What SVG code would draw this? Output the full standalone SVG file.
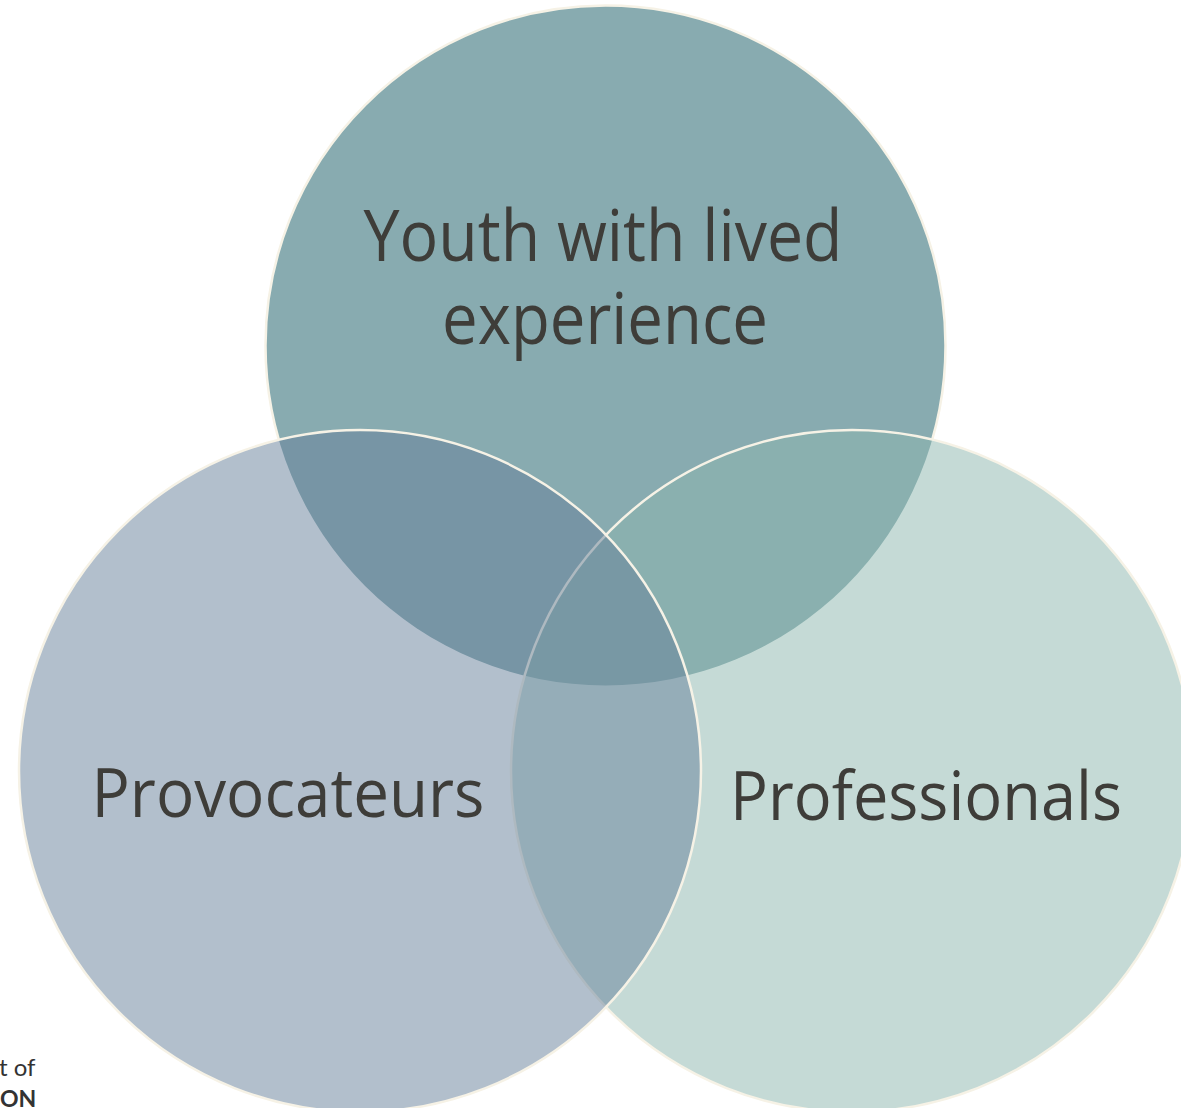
<svg xmlns="http://www.w3.org/2000/svg" width="1181" height="1108" viewBox="0 0 1181 1108">
  <style>
    .label { font-family: "Open Sans", "Noto Sans", "DejaVu Sans", sans-serif; fill: #3e3d39; text-anchor: middle; }
    .ring { stroke: #f6f2e6; stroke-width: 2.5; }
    .logo { font-family: "Lato", "Liberation Sans", sans-serif; fill: #333333; }
  </style>
  <defs>
    <!-- hides the top ring's outline where the lower circles sit over it -->
    <mask id="topEdge" maskUnits="userSpaceOnUse" x="0" y="0" width="1181" height="1108">
      <rect x="0" y="0" width="1181" height="1108" fill="#fff"/>
      <circle cx="360" cy="771" r="341" fill="#000"/>
      <circle cx="852" cy="771" r="341" fill="#000"/>
    </mask>
  </defs>
  <rect x="0" y="0" width="1181" height="1108" fill="#ffffff"/>

  <g id="youth">
    <circle cx="605.5" cy="345.5" r="340" fill="#88abb0"/>
    <circle cx="605.5" cy="345.5" r="340" fill="none" class="ring" mask="url(#topEdge)"/>
  </g>
  <g id="professionals">
    <circle cx="852" cy="771" r="341" fill="#8bb5ad" fill-opacity="0.5" class="ring"/>
  </g>
  <g id="provocateurs">
    <circle cx="360" cy="771" r="341" fill="#657f99" fill-opacity="0.5" class="ring"/>
  </g>

  <g id="labels">
    <text class="label" x="603" y="261" font-size="72" textLength="479" lengthAdjust="spacingAndGlyphs">Youth with lived</text>
    <text class="label" x="605" y="344" font-size="72" textLength="326" lengthAdjust="spacingAndGlyphs">experience</text>
    <text class="label" x="288" y="817" font-size="67" textLength="393" lengthAdjust="spacingAndGlyphs">Provocateurs</text>
    <text class="label" x="926" y="820" font-size="67" textLength="392" lengthAdjust="spacingAndGlyphs">Professionals</text>
  </g>

  <g id="logo">
    <text class="logo" x="-1" y="1076" font-size="24">t of</text>
    <text class="logo" x="0" y="1107" font-size="23" font-weight="bold">ON</text>
  </g>
</svg>
